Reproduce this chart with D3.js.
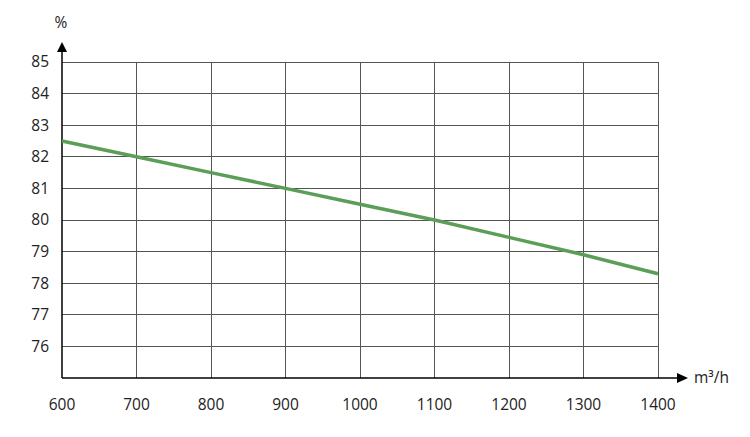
<!DOCTYPE html>
<html><head><meta charset="utf-8">
<script src="https://cdn.jsdelivr.net/npm/d3@7"></script>
<style>body{margin:0;background:#fff}svg{display:block}text{font-family:"Open Sans",Roboto,sans-serif;font-size:15.5px;fill:#222}</style>
</head><body><svg id="c" width="750" height="437"></svg>
<script>
const flows = [600,700,800,900,1000,1100,1200,1300,1400];
const efficiency = [82.5,82.0,81.5,81.0,80.5,80.0,79.45,78.9,78.3];
const xTicks = [600,700,800,900,1000,1100,1200,1300,1400];
const yTicks = [76,77,78,79,80,81,82,83,84,85];
const yLabel = "%", xLabel = "m³/h";

const svg = d3.select("#c");
const x = d3.scaleLinear().domain([600,1400]).range([62,658]);
const y = d3.scaleLinear().domain([75,85]).range([378,62]);

const g = svg.append("g");
g.selectAll(".vg").data(xTicks.slice(1)).join("line")
 .attr("x1",d=>x(d)).attr("x2",d=>x(d)).attr("y1",y(85)).attr("y2",y(75))
 .attr("stroke","#555").attr("stroke-width",1).attr("shape-rendering","crispEdges");
g.selectAll(".hg").data(yTicks).join("line")
 .attr("x1",x(600)).attr("x2",x(1400)).attr("y1",d=>y(d)).attr("y2",d=>y(d))
 .attr("stroke","#555").attr("stroke-width",1).attr("shape-rendering","crispEdges");

svg.append("line").attr("x1",x(600)).attr("x2",x(600)).attr("y1",y(75)).attr("y2",50)
 .attr("stroke","#000").attr("stroke-width",1.5);
svg.append("path").attr("d",`M${x(600)},42 L${x(600)-5},52 L${x(600)+5},52 Z`).attr("fill","#000");
svg.append("line").attr("x1",x(600)).attr("x2",678).attr("y1",y(75)).attr("y2",y(75))
 .attr("stroke","#000").attr("stroke-width",1.5);
svg.append("path").attr("d",`M688,${y(75)} L677,${y(75)-5} L677,${y(75)+5} Z`).attr("fill","#000");

svg.selectAll(".yl").data(yTicks).join("text")
 .attr("x",49).attr("y",d=>y(d)).attr("dy","0.35em").attr("text-anchor","end").text(d=>d);
svg.selectAll(".xl").data(xTicks).join("text")
 .attr("x",d=>x(d)).attr("y",405).attr("dy","0.35em").attr("text-anchor","middle").text(d=>d);
svg.append("text").attr("x",61).attr("y",28).attr("text-anchor","middle").text(yLabel);
svg.append("text").attr("x",694).attr("y",378).attr("dy","0.35em").text(xLabel);

const line = d3.line().x((d,i)=>x(flows[i])).y(d=>y(d));
svg.append("path").datum(efficiency).attr("d",line).attr("fill","none")
 .attr("stroke","#5a9e57").attr("stroke-width",3.5);
</script></body></html>
